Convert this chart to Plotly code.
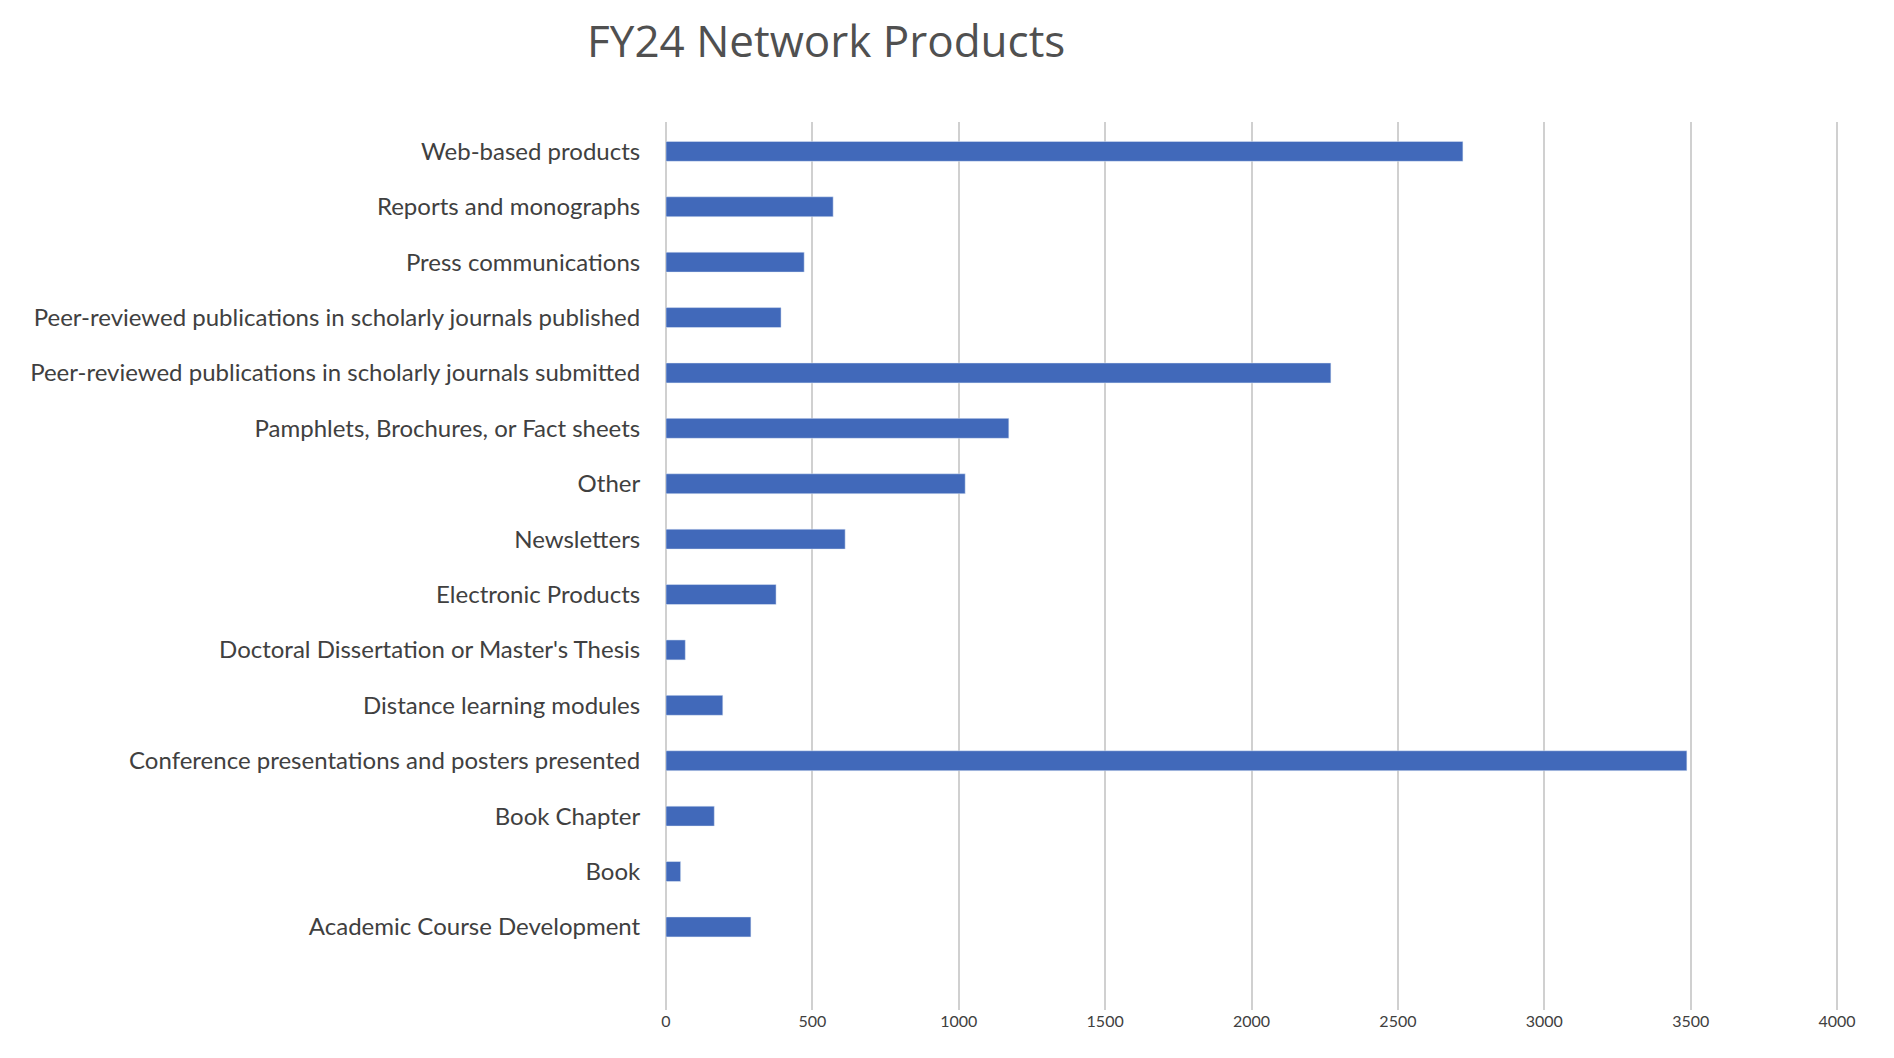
import plotly.graph_objects as go

# categories bottom -> top (as drawn)
categories = [
    "Academic Course Development",
    "Book",
    "Book Chapter",
    "Conference presentations and posters presented",
    "Distance learning modules",
    "Doctoral Dissertation or Master's Thesis",
    "Electronic Products",
    "Newsletters",
    "Other",
    "Pamphlets, Brochures, or Fact sheets",
    "Peer-reviewed publications in scholarly journals submitted",
    "Peer-reviewed publications in scholarly journals published",
    "Press communications",
    "Reports and monographs",
    "Web-based products",
]
values = [290, 50, 165, 3487, 194, 66, 376, 612, 1022, 1171, 2271, 393, 472, 571, 2722]
tick_vals = [0, 500, 1000, 1500, 2000, 2500, 3000, 3500, 4000]

fig = go.Figure(go.Bar(
    x=values, y=categories, orientation="h",
    marker=dict(color="#4169BA"), width=0.36,
))
fig.update_layout(
    width=1894, height=1058,
    paper_bgcolor="white", plot_bgcolor="white",
    font=dict(family="Lato, Open Sans, sans-serif", color="#404040"),
    title=dict(text="FY24 Network Products", x=0.432, xanchor="center",
               y=0.968, yanchor="middle",
               font=dict(size=44, color="#505050", family="Open Sans, sans-serif")),
    margin=dict(l=658, r=62, t=114, b=56),
    showlegend=False,
)
fig.update_xaxes(range=[0, 4010], tickvals=tick_vals, showgrid=True, gridcolor="#D0D0D0",
                 gridwidth=1.5, zeroline=True, zerolinecolor="#D0D0D0", tickfont=dict(size=16))
fig.update_yaxes(tickfont=dict(size=24), showgrid=False, ticks="outside", ticklen=20,
                 tickcolor="rgba(0,0,0,0)", range=[-1.5, 14.53])
fig.write_html("out.html")
